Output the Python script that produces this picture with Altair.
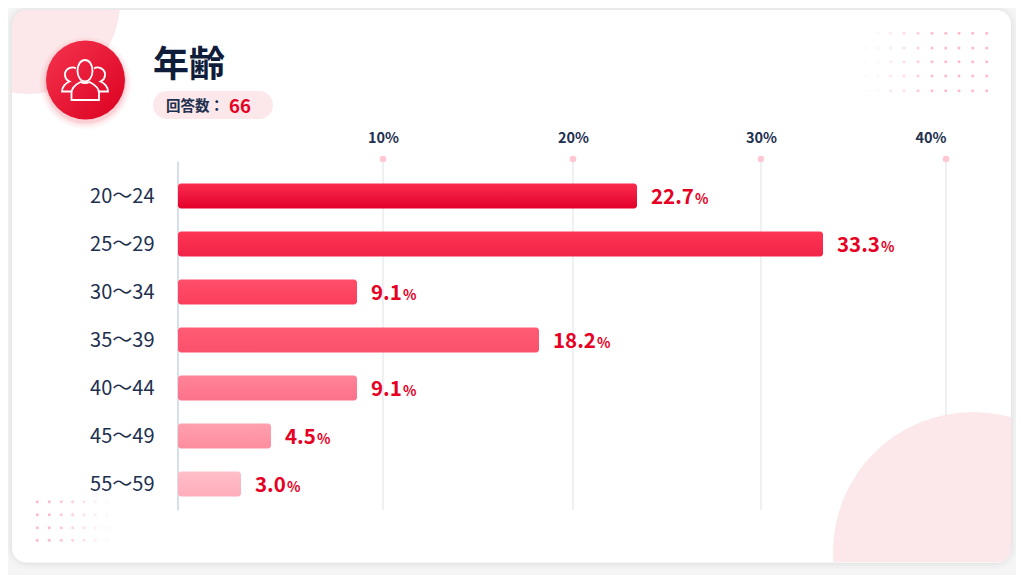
import altair as alt
import pandas as pd

FONT = "Noto Sans CJK JP"

# Chart values
ages = ["20～24", "25～29", "30～34", "35～39", "40～44", "45～49", "55～59"]
shares = [22.7, 33.3, 9.1, 18.2, 9.1, 4.5, 3.0]
ticks = [10, 20, 30, 40]
title_text = "年齢"
count_label = "回答数："
count_value = "66"

# The reference's axis is not evenly spaced, so the scale is piecewise
scale_domain = [0, 3.0, 4.5, 9.1, 10, 18.2, 20, 22.7, 30, 33.3, 40]
scale_range = [0, 63, 93, 179, 205, 361, 395, 459, 583, 645, 768]

tops = ["#fa2c4e", "#ff3554", "#ff4f6a", "#ff5c74", "#ff8497", "#ffa0ae", "#ffbec9"]
bottoms = ["#e3002a", "#ef2448", "#fa3e5c", "#fb506c", "#fc7189", "#fd8d9f", "#feadbb"]

NAVY = "#22304f"
RED = "#e60023"
PINK = "#fce8ea"
OUT = "#f5f5f6"

LEFT, TOP = 170, 154  # padding: plot origin at page (178, 162)


def px(x):
    return x - 178


def py(y):
    return y - 162


one = pd.DataFrame({"k": [0]})
df = pd.DataFrame({"age": ages, "share": shares})
tick_df = pd.DataFrame({"tick": ticks})

xs = alt.Scale(domain=scale_domain, range=scale_range, nice=False, zero=False)
ys = alt.Scale(domain=ages, range=[10, 346], paddingInner=0.48, paddingOuter=0.24)
xaxis = alt.Axis(
    orient="top", values=ticks, labelExpr="datum.value + '%'", title=None, grid=False,
    ticks=False, domain=False, labelPadding=17, labelFont=FONT, labelFontSize=14.5,
    labelFontWeight="bold", labelColor=NAVY, labelOverlap=False, zindex=1,
)
yaxis = alt.Axis(
    title=None, grid=False, ticks=False, domain=False, labelPadding=24, labelFont=FONT,
    labelFontSize=20, labelColor=NAVY, labelOverlap=False, labelOffset=1, zindex=1,
)


def rect(x0, y0, x1, y1, **kw):
    return alt.Chart(one).mark_rect(**kw).encode(
        x=alt.value(px(x0)), x2=alt.value(px(x1)), y=alt.value(py(y0)), y2=alt.value(py(y1))
    )


def circle(x, y, r, **kw):
    return alt.Chart(one).mark_circle(size=4 * r * r, opacity=kw.pop("opacity", 1), **kw).encode(
        x=alt.value(px(x)), y=alt.value(py(y))
    )


def label(x, y, text, size, color, weight="bold"):
    return alt.Chart(one).mark_text(
        text=text, font=FONT, fontSize=size, fontWeight=weight, color=color,
        align="left", baseline="middle",
    ).encode(x=alt.value(px(x)), y=alt.value(py(y)))


def grad(c0, c1, x2=0, y2=1):
    return alt.LinearGradient(
        gradient="linear", x1=0, y1=0, x2=x2, y2=y2,
        stops=[alt.GradientStop(color=c0, offset=0), alt.GradientStop(color=c1, offset=1)],
    )


layers = []
# Card
layers.append(rect(-30, -30, 1050, 610, color=OUT))
layers.append(rect(12, 10, 1011, 562, color="#ffffff"))

# Gridlines
layers.append(
    alt.Chart(tick_df).mark_rule(color="#dfe1e8", strokeWidth=1).encode(
        x=alt.X("tick:Q", scale=xs, axis=xaxis), y=alt.value(py(160)), y2=alt.value(py(510))
    )
)
layers.append(
    alt.Chart(tick_df).mark_circle(size=44, color="#ffc8d3", opacity=1).encode(
        x=alt.X("tick:Q", scale=xs, axis=xaxis), y=alt.value(py(159))
    )
)

# Corner discs, then the surround as a thick ring so that they end at the card edge
layers.append(circle(28, 2, 92, color=PINK))
layers.append(circle(973, 552, 140, color=PINK))
layers.append(
    rect(12 - 30, 10 - 30, 1011 + 30, 562 + 30, fillOpacity=0, stroke=OUT, strokeWidth=60, cornerRadius=44)
)
for k, op in [(1, 0.055), (2, 0.045), (3, 0.035), (4, 0.025), (5, 0.018), (6, 0.01)]:
    layers.append(
        rect(12 - k + 0.5, 10 - k + 0.5, 1011 + k - 0.5, 562 + k - 0.5 + 1, fillOpacity=0, stroke="#000000",
             strokeOpacity=op, strokeWidth=1, cornerRadius=14 + k)
    )

# Dots
tr_x = [865, 877.7, 890.7, 904, 918, 932, 945.7, 959, 972.7, 986.7]
tr_y = [33.3, 48, 61.7, 76, 90.7]
tr_o = [0.08, 0.15, 0.3, 0.45, 0.65, 0.85, 0.9, 0.9, 0.9, 0.9]
bl_x = [37.3, 49.3, 61.3, 72.7, 84, 95.3, 106.7]
bl_y = [501.7, 514.7, 527.7, 540.3]
bl_o = [0.9, 0.9, 0.75, 0.6, 0.4, 0.22, 0.12]
dots = []
for xv, o in zip(tr_x, tr_o):
    for yv in tr_y:
        if xv == tr_x[0] and yv == tr_y[0]:
            continue
        dots.append({"px": px(xv), "py": py(yv), "o": o})
for xv, o in zip(bl_x, bl_o):
    for yv in bl_y:
        dots.append({"px": px(xv), "py": py(yv), "o": o})
layers.append(
    alt.Chart(pd.DataFrame(dots)).mark_circle(size=9, color="#ffb3c1").encode(
        x=alt.X("px:Q", scale=None, axis=None),
        y=alt.Y("py:Q", scale=None, axis=None),
        opacity=alt.Opacity("o:Q", scale=None, legend=None),
    )
)

# Axis line
layers.append(
    rect(178, 162, 178.01, 510, stroke="#bccadf", strokeWidth=1.2)
)

# Bars and value labels
for age, share, c0, c1 in zip(ages, shares, tops, bottoms):
    row = df[df.age == age]
    layers.append(
        alt.Chart(row).mark_bar(color=grad(c0, c1), cornerRadius=3).encode(
            x=alt.X("share:Q", scale=xs, axis=xaxis, stack=None),
            y=alt.Y("age:N", scale=ys, axis=yaxis, sort=None),
        )
    )
    width = 44 if share >= 10 else 32
    for kw, text in [
        (dict(fontSize=20.5, dx=14), "number"),
        (dict(fontSize=14, dx=14 + width), "%"),
    ]:
        layers.append(
            alt.Chart(row).transform_calculate(
                t="format(datum.share, '.1f')" if text == "number" else "'%'"
            ).mark_text(
                font=FONT, fontWeight="bold", color=RED, align="left", baseline="alphabetic", dy=8, **kw
            ).encode(
                x=alt.X("share:Q", scale=xs, axis=xaxis),
                y=alt.Y("age:N", scale=ys, axis=yaxis, sort=None),
                text="t:N",
            )
        )

# Header
for r, op in [(46, 0.03), (44, 0.04), (42, 0.05), (40.5, 0.07)]:
    layers.append(circle(85.5, 83, r, color="#e60023", opacity=op))
layers.append(circle(85.5, 80, 39.5, color=grad("#f5344f", "#da001f", x2=1, y2=1)))

icon_paths = [
    "M-8,-9C-8,-16,-4.5,-20,-0.5,-20C3.5,-20,7,-16,7,-9C7,-3,3.5,1.5,-0.5,1.5C-4.5,1.5,-8,-3,-8,-9Z",
    "M-14,20L-14,13C-14,7,-9,4,-5,2C-2,3.5,1,3.5,4,2C8,4,13.5,7,13.5,13L13.5,20Z",
    "M-9.5,-11.5C-13,-14,-19,-12,-20.5,-7C-21,-3,-19,0,-16,1.5C-20,3,-23.5,7,-23.5,11.5L-14,11.5",
    "M8.5,-11.5C12,-14,18,-12,19.5,-7C20,-3,18,0,15,1.5C19,3,22.5,7,22.5,11.5L13.5,11.5",
]
for path in icon_paths:
    layers.append(
        alt.Chart(one).mark_point(shape=path, size=4, filled=False, stroke="#ffffff", strokeWidth=1.8, opacity=1).encode(
            x=alt.value(px(85.5)), y=alt.value(py(80))
        )
    )

layers.append(label(153, 66, title_text, 36, "#0f1d3a"))
layers.append(rect(153, 91, 273, 119, color=PINK, cornerRadius=14))
layers.append(label(166, 107, count_label, 14.5, NAVY))
layers.append(label(229, 107, count_value, 18.5, RED))

chart = alt.layer(*layers).properties(
    width=838,
    height=413,
    padding={"left": LEFT, "top": TOP, "right": 0, "bottom": 0},
    autosize=alt.AutoSizeParams(type="none"),
    background=OUT,
).configure_view(stroke=None)

chart.save("out.html", embed_options={"renderer": "svg", "actions": False})
